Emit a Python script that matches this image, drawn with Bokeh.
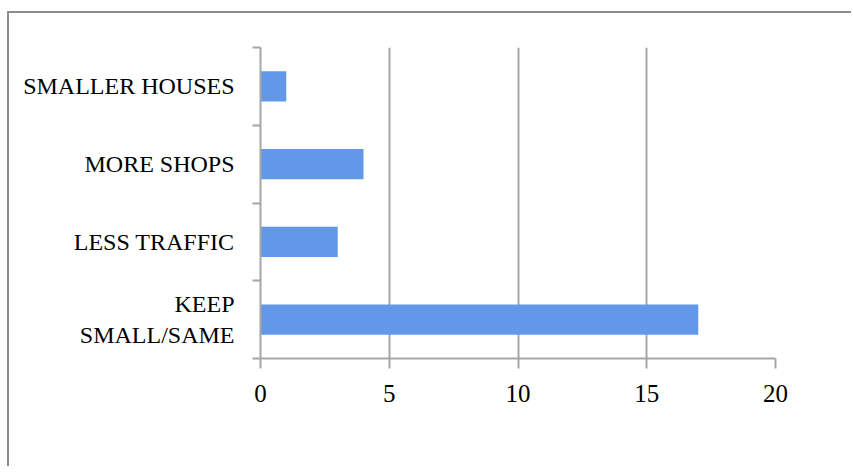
import numpy as np
from bokeh.plotting import figure
from bokeh.models import Range1d, FixedTicker, ColumnDataSource
from bokeh.embed import file_html
from bokeh.resources import INLINE

# data (bottom -> top)
categories = ["KEEP SMALL/SAME", "LESS TRAFFIC", "MORE SHOPS", "SMALLER HOUSES"]
category_labels = ["KEEP\nSMALL/SAME", "LESS TRAFFIC", "MORE SHOPS", "SMALLER HOUSES"]
values = [17, 3, 4, 1]
x_ticks = [0, 5, 10, 15, 20]

ypos = np.arange(len(categories)) + 0.5
src = ColumnDataSource(dict(y=ypos, v=values, cat=categories))

p = figure(width=844, height=455, output_backend="svg", toolbar_location=None,
           x_range=Range1d(0, 20), y_range=Range1d(0, len(categories)),
           min_border_left=251, min_border_right=78, min_border_top=34, min_border_bottom=110)
p.margin = (11, 0, 0, 7)
p.styles = {"border-top": "2px solid #8c8c8c", "border-left": "2px solid #8c8c8c"}
p.outline_line_color = None
p.background_fill_color = "white"
p.border_fill_color = "white"

p.hbar(y="y", right="v", left=0, height=0.39, source=src,
       fill_color="#6398e8", line_color=None)

gray = "#a6a6a6"
# x axis
xa = p.xaxis[0]
xa.ticker = FixedTicker(ticks=x_ticks)
xa.axis_line_color = gray
xa.axis_line_width = 2
xa.major_tick_line_color = gray
xa.major_tick_line_width = 2
xa.major_tick_out = 10
xa.major_tick_in = 0
xa.minor_tick_line_color = None
xa.major_label_text_font = "Liberation Serif"
xa.major_label_text_font_size = "25px"
xa.major_label_text_color = "black"
xa.major_label_standoff = 16

# y axis
ya = p.yaxis[0]
ya.ticker = FixedTicker(ticks=list(ypos), minor_ticks=list(range(len(categories) + 1)))
ya.major_label_overrides = {float(y): lab for y, lab in zip(ypos, category_labels)}
ya.axis_line_color = gray
ya.axis_line_width = 2
ya.major_tick_line_color = None
ya.major_tick_out = 0
ya.major_tick_in = 0
ya.minor_tick_line_color = gray
ya.minor_tick_line_width = 2
ya.minor_tick_out = 8
ya.minor_tick_in = 0
ya.major_label_text_font = "Liberation Serif"
ya.major_label_text_font_size = "24px"
ya.major_label_text_color = "black"
ya.major_label_text_align = "center"
ya.major_label_standoff = 18

p.ygrid.grid_line_color = None
p.xgrid.ticker = FixedTicker(ticks=x_ticks)
p.xgrid.grid_line_color = gray
p.xgrid.grid_line_width = 2

open("out.html", "w").write(file_html(p, INLINE))
